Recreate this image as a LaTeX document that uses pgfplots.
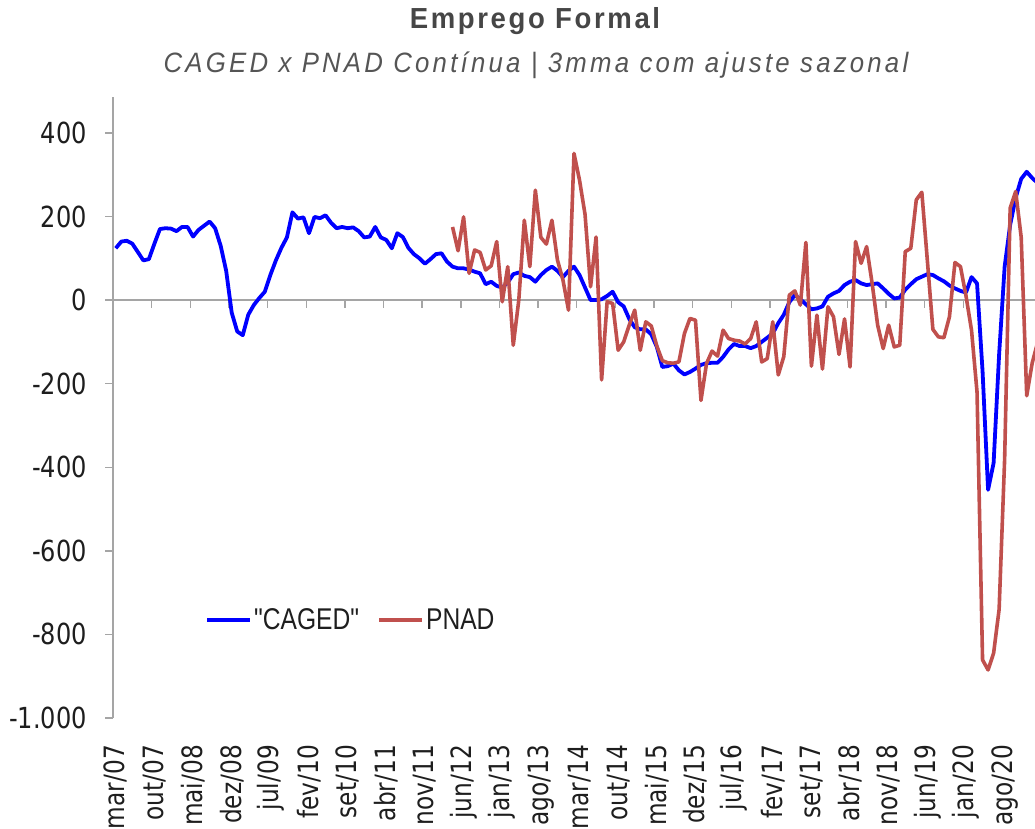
\documentclass[border=0pt]{standalone}
\usepackage{fontspec}
\setmainfont{Liberation Sans}
\usepackage{pgfplots}
\usepackage{pgfplotstable}
\pgfplotsset{compat=1.18}
\newfontfamily\tickfont{DejaVu Sans}[FakeStretch=0.83]
\newfontfamily\legfont{Liberation Sans}[FakeStretch=0.82, Ligatures=TeXOff]
\newfontfamily\titlefont{Liberation Sans}[FakeStretch=0.95, LetterSpace=9]
\newfontfamily\subfont{Liberation Sans}[FakeStretch=0.92, LetterSpace=11.5]
\definecolor{cagedblue}{RGB}{0,0,255}
\definecolor{pnadred}{RGB}{192,80,77}
\definecolor{titlegray}{RGB}{70,70,70}
\definecolor{subgray}{RGB}{85,85,85}
\definecolor{axisgray}{RGB}{165,165,165}
\definecolor{labelcol}{RGB}{30,30,30}

\pgfplotstableread{
m v
0 124
1 140
2 142
3 135
4 115
5 95
6 98
7 135
8 170
9 172
10 171
11 165
12 175
13 175
14 152
15 168
16 178
17 188
18 172
19 130
20 70
21 -30
22 -75
23 -84
24 -35
25 -12
26 5
27 20
28 60
29 95
30 125
31 150
32 210
33 195
34 198
35 160
36 199
37 196
38 203
39 185
40 172
41 175
42 172
43 174
44 165
45 150
46 152
47 175
48 150
49 144
50 124
51 160
52 151
53 125
54 110
55 100
56 87
57 98
58 110
59 112
60 92
61 80
62 76
63 76
64 73
65 68
66 64
67 38
68 44
69 34
70 30
71 42
72 62
73 66
74 58
75 55
76 44
77 60
78 72
79 80
80 70
81 55
82 70
83 80
84 60
85 30
86 0
87 0
88 2
89 10
90 20
91 -5
92 -15
93 -45
94 -65
95 -70
96 -70
97 -82
98 -112
99 -160
100 -158
101 -152
102 -168
103 -178
104 -172
105 -164
106 -155
107 -151
108 -150
109 -150
110 -136
111 -118
112 -105
113 -110
114 -110
115 -115
116 -110
117 -100
118 -90
119 -80
120 -55
121 -35
122 -5
123 12
124 2
125 -10
126 -22
127 -20
128 -15
129 8
130 16
131 22
132 36
133 44
134 48
135 40
136 36
137 38
138 40
139 28
140 15
141 4
142 6
143 25
144 38
145 50
146 56
147 62
148 60
149 52
150 45
151 35
152 28
153 22
154 18
155 55
156 40
157 -170
158 -454
159 -390
160 -130
161 80
162 180
163 245
164 290
165 307
166 292
167 280
}\caged

\pgfplotstableread{
m v
61 175
62 118
63 199
64 64
65 120
66 114
67 72
68 82
69 140
70 -4
71 80
72 -108
73 0
74 191
75 80
76 263
77 150
78 134
79 191
80 96
81 48
82 -24
83 351
84 287
85 205
86 32
87 151
88 -191
89 -4
90 -8
91 -120
92 -100
93 -60
94 -24
95 -120
96 -52
97 -62
98 -110
99 -145
100 -150
101 -151
102 -148
103 -80
104 -44
105 -48
106 -240
107 -152
108 -122
109 -134
110 -72
111 -92
112 -96
113 -98
114 -105
115 -92
116 -52
117 -148
118 -140
119 -52
120 -179
121 -135
122 12
123 22
124 -12
125 138
126 -158
127 -36
128 -165
129 -16
130 -40
131 -130
132 -45
133 -160
134 140
135 88
136 128
137 40
138 -60
139 -116
140 -60
141 -112
142 -108
143 116
144 124
145 240
146 258
147 95
148 -70
149 -88
150 -90
151 -40
152 90
153 80
154 10
155 -72
156 -220
157 -861
158 -885
159 -845
160 -740
161 -380
162 220
163 260
164 150
165 -229
166 -150
167 -100
}\pnad

\begin{document}
\begin{tikzpicture}
\path[use as bounding box] (0,0) rectangle (1035bp,829bp);
\node[anchor=base, text=titlegray, font=\titlefont\bfseries\fontsize{29bp}{34bp}\selectfont] at (535bp,800bp) {Emprego Formal};
\node[anchor=base, text=subgray, font=\subfont\itshape\fontsize{28bp}{33bp}\selectfont] at (536bp,756bp) {CAGED x PNAD Contínua | 3mma com ajuste sazonal};
\begin{axis}[
  at={(113bp,111bp)}, anchor=south west,
  scale only axis, width=922bp, height=621bp,
  xmin=-0.5, xmax=166.5, ymin=-1000, ymax=486,
  axis x line*=bottom, axis y line*=left,
  x axis line style={draw=none},
  y axis line style={-, draw=axisgray, line width=1.6bp},
  tick align=outside,
  major tick length=8bp,
  ytick={-1000,-800,-600,-400,-200,0,200,400},
  yticklabels={{-1.000},{-800},{-600},{-400},{-200},{0},{200},{400}},
  ytick style={draw=axisgray, line width=1.4bp},
  xtick={0,7,...,161},
  xticklabels={mar/07,out/07,mai/08,dez/08,jul/09,fev/10,set/10,abr/11,nov/11,jun/12,jan/13,ago/13,mar/14,out/14,mai/15,dez/15,jul/16,fev/17,set/17,abr/18,nov/18,jun/19,jan/20,ago/20},
  xtick style={draw=none},
  ticklabel style={text=labelcol, inner sep=0pt},
  yticklabel style={font=\tickfont\fontsize{29bp}{34bp}\selectfont, anchor=east, xshift=-18bp},
  xticklabel style={font=\tickfont\fontsize{28bp}{32bp}\selectfont, yshift=-19bp, rotate=90, anchor=east},
  legend style={draw=none, fill=none, at={(0.0998,0.158)}, anchor=west,
    font=\legfont\fontsize{30bp}{34bp}\selectfont, text=labelcol,
    inner sep=0pt, nodes={inner sep=2bp},
    /tikz/every even column/.append style={column sep=16bp}},
  legend columns=2,
  legend image code/.code={\draw[#1, line width=4bp] (0bp,0bp) -- (43bp,0bp);},
]
\draw[axisgray, line width=1.6bp] (axis cs:-0.5,0) -- (axis cs:166.5,0);
\pgfplotsinvokeforeach{6.5,13.5,20.5,27.5,34.5,41.5,48.5,55.5,62.5,69.5,76.5,83.5,90.5,97.5,104.5,111.5,118.5,125.5,132.5,139.5,146.5,153.5,160.5}{
  \draw[axisgray, line width=1.4bp] (axis cs:#1,0) -- ++(0bp,-8bp);
}
\addplot[cagedblue, line width=3.8bp, line join=round] table[x=m, y=v] {\caged};
\addlegendentry{"CAGED"}
\addplot[pnadred, line width=3.6bp, line join=round] table[x=m, y=v] {\pnad};
\addlegendentry{PNAD}
\end{axis}
\end{tikzpicture}
\end{document}
